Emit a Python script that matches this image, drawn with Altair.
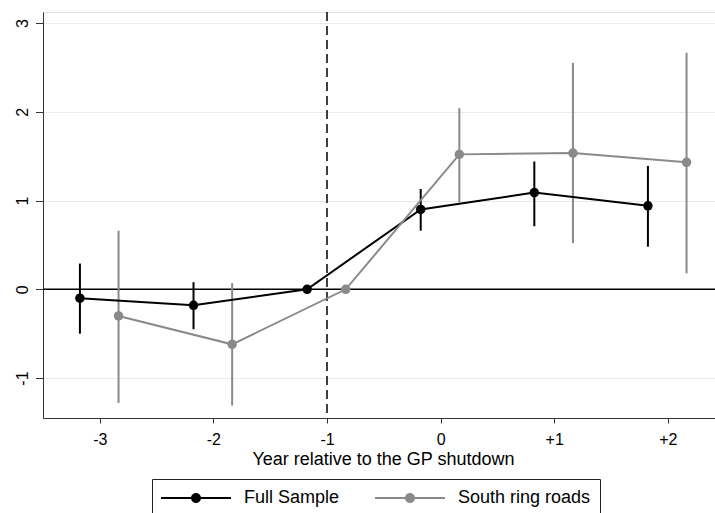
import altair as alt
import pandas as pd

years = [-3, -2, -1, 0, 1, 2]
series = ["Full Sample", "South ring roads"]
offsets = [-0.175, 0.165]
full_est = [-0.10, -0.18, 0.00, 0.90, 1.09, 0.94]
full_lo = [-0.50, -0.45, 0.00, 0.66, 0.71, 0.48]
full_hi = [0.29, 0.08, 0.00, 1.13, 1.44, 1.39]
south_est = [-0.30, -0.62, 0.00, 1.52, 1.535, 1.43]
south_lo = [-1.28, -1.31, 0.00, 0.98, 0.52, 0.18]
south_hi = [0.66, 0.07, 0.00, 2.04, 2.55, 2.665]
colors = ["#000000", "#8a8a8a"]
x_ticks = [-3, -2, -1, 0, 1, 2]
y_ticks = [-1, 0, 1, 2, 3]

rows = []
for name, off, est, lo, hi in [
    (series[0], offsets[0], full_est, full_lo, full_hi),
    (series[1], offsets[1], south_est, south_lo, south_hi),
]:
    for yr, e, l, h in zip(years, est, lo, hi):
        rows.append({"series": name, "year": yr, "x": yr + off, "est": e, "lo": l, "hi": h})
df = pd.DataFrame(rows)
ci = df[df["lo"] != df["hi"]]

FONT = "Liberation Sans"
xscale = alt.Scale(domain=[-3.5, 2.4155], nice=False, zero=False)
yscale = alt.Scale(domain=[-1.45, 3.124], nice=False, zero=False)
cscale = alt.Scale(domain=series, range=colors)

xaxis = alt.Axis(
    values=x_ticks,
    labelExpr="(datum.value > 0 ? '+' : '') + toString(datum.value)",
    title="Year relative to the GP shutdown",
    titleFont=FONT, titleFontSize=18, titleFontWeight="normal", titleColor="black",
    titleX=340, titleY=46, titleBaseline="alphabetic", titleAnchor="middle",
    labelFont=FONT, labelFontSize=16, labelColor="black",
    labelBaseline="alphabetic", labelPadding=21,
    tickSize=5, tickColor="#333333", domainColor="#333333", grid=False,
)
yaxis = alt.Axis(
    values=y_ticks, title=None,
    labelExpr="toString(datum.value)",
    labelFont=FONT, labelFontSize=16, labelColor="black",
    labelAngle=270, labelAlign="center", labelBaseline="alphabetic", labelPadding=8,
    tickSize=7.5, tickColor="#333333", domainColor="#333333",
    grid=True, gridColor="#e3eced", gridWidth=1,
)

# legend key: a thin bar with a dot in its middle (filled path)
sym = ("M-1,-0.1L6,-0.1L6,0.1L-1,0.1Z"
       "M2,0A0.5,0.5,0,1,1,3,0A0.5,0.5,0,1,1,2,0Z")
legend = alt.Legend(
    title=None, orient="none", legendX=109, legendY=467, direction="horizontal",
    symbolType=sym, symbolSize=400, symbolStrokeWidth=0, symbolOpacity=1,
    labelFont=FONT, labelFontSize=18, labelColor="black", labelOffset=63,
    columnPadding=35, padding=9, strokeColor="#222222", fillColor="white",
    labelLimit=300,
)
color = alt.Color("series:N", scale=cscale, legend=legend)

base = alt.Chart(df)

axes_layer = base.mark_point(opacity=0).encode(
    x=alt.X("x:Q", scale=xscale, axis=xaxis),
    y=alt.Y("est:Q", scale=yscale, axis=yaxis),
)

zero_line = alt.Chart(pd.DataFrame({"v": [0]})).mark_rule(color="black", strokeWidth=1.4).encode(
    y=alt.Y("v:Q", scale=yscale)
)
ref_line = alt.Chart(pd.DataFrame({"v": [-1]})).mark_rule(
    color="black", strokeWidth=1.5, strokeDash=[9, 5]
).encode(x=alt.X("v:Q", scale=xscale))

bars = alt.Chart(ci).mark_rule(strokeWidth=2).encode(
    x=alt.X("x:Q", scale=xscale),
    y=alt.Y("lo:Q", scale=yscale),
    y2="hi:Q",
    color=color,
)

lines = base.mark_line(strokeWidth=2).encode(
    x=alt.X("x:Q", scale=xscale),
    y=alt.Y("est:Q", scale=yscale),
    color=color,
    detail="series:N",
)

points = base.mark_point(filled=True, size=90, opacity=1).encode(
    x=alt.X("x:Q", scale=xscale),
    y=alt.Y("est:Q", scale=yscale),
    color=color,
)

chart = alt.layer(axes_layer, zero_line, ref_line, bars, lines, points).properties(
    width=672, height=406,
    padding={"left": 43, "top": 12, "right": 0, "bottom": 95},
    autosize=alt.AutoSizeParams(type="none"),
).configure_view(strokeWidth=0).configure(background="white")

chart.save("out.html", embed_options={"renderer": "svg", "actions": False})
